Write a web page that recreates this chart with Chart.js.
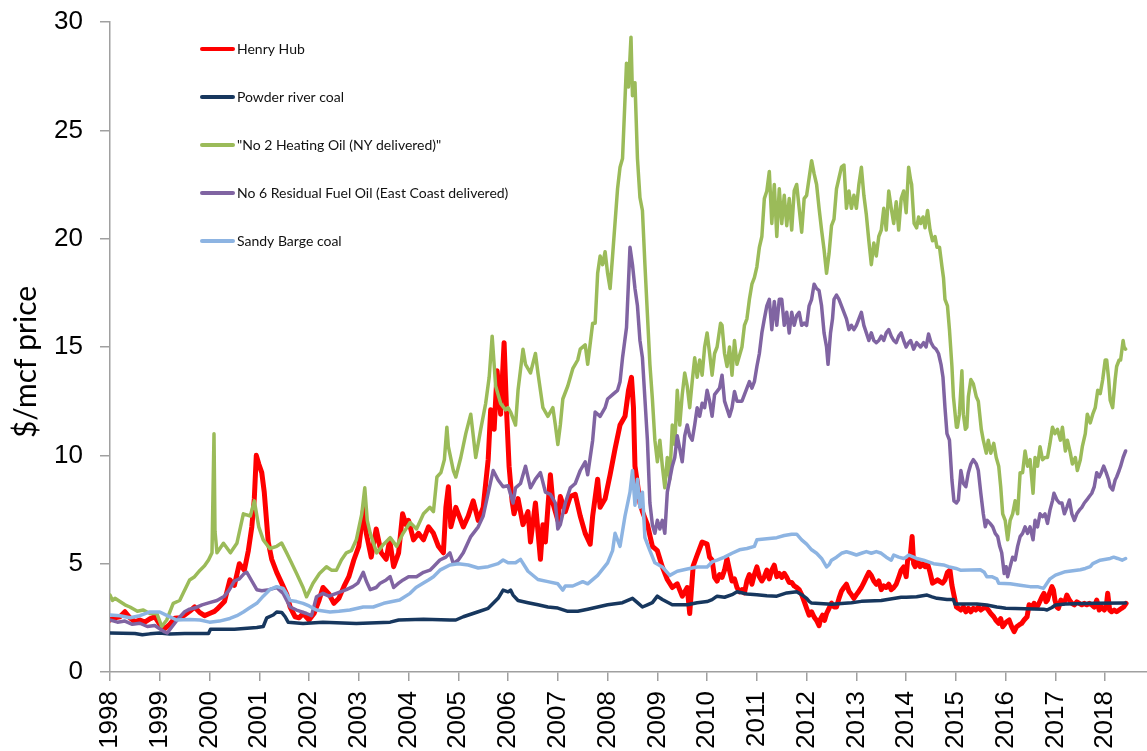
<!DOCTYPE html>
<html>
<head>
<meta charset="utf-8">
<script src="https://cdn.jsdelivr.net/npm/chart.js@4.4.1/dist/chart.umd.min.js"></script>
<style>
html,body{margin:0;padding:0;background:#fff;overflow:hidden;}
#wrap{position:relative;width:1147px;height:751px;}
</style>
</head>
<body>
<div id="wrap"><canvas id="c" width="1147" height="751"></canvas></div>
<script>
// ---- tick labels / categories ----
const yearTicks = [1998,1999,2000,2001,2002,2003,2004,2005,2006,2007,2008,2009,2010,2011,2012,2013,2014,2015,2016,2017,2018];
const seriesNames = ["Henry Hub","Powder river coal","\"No 2 Heating Oil (NY delivered)\"","No 6 Residual Fuel Oil (East Coast delivered)","Sandy Barge coal"];
const seriesColors = ["#ff0000","#17375e","#9bbb59","#8064a2","#8db4e2"];
const yAxisTitle = "$/mcf price";

// ---- series values: [decimal year, $/mcf] ----
const henryHub = [[1998.0,2.4],[1998.1,2.5],[1998.2,2.55],[1998.3,2.78],[1998.4,2.5],[1998.5,2.32],[1998.6,2.4],[1998.7,2.3],[1998.8,2.45],[1998.9,2.55],[1999.0,2.2],[1999.1,2.0],[1999.2,2.2],[1999.3,2.48],[1999.4,2.5],[1999.5,2.63],[1999.6,2.8],[1999.7,3.0],[1999.8,2.75],[1999.9,2.6],[2000.0,2.7],[2000.1,2.8],[2000.15,2.9],[2000.3,3.25],
[2000.41,4.25],[2000.5,4.0],[2000.6,5.0],[2000.7,4.7],[2000.78,5.6],[2000.85,6.7],[2000.9,8.0],[2000.94,10.0],[2000.99,9.6],[2001.05,9.2],[2001.1,8.3],[2001.18,6.0],[2001.25,5.2],[2001.35,4.6],[2001.45,4.1],[2001.55,3.6],[2001.62,3.0],[2001.72,2.55],[2001.8,2.5],[2001.88,2.7],[2002.0,2.4],
[2002.1,2.7],[2002.2,3.3],[2002.28,3.9],[2002.4,3.6],[2002.5,3.17],[2002.6,3.4],[2002.7,3.94],[2002.8,4.4],[2002.9,5.17],[2003.0,5.8],[2003.1,7.6],[2003.15,6.4],[2003.25,5.3],[2003.35,6.6],[2003.45,5.5],[2003.55,5.2],[2003.62,6.1],[2003.7,4.86],[2003.8,5.5],[2003.88,7.3],[2003.95,6.8],[2004.0,7.0],[2004.1,6.1],[2004.2,6.4],[2004.3,6.1],[2004.4,6.7],[2004.5,6.4],[2004.6,5.8],[2004.7,5.5],[2004.75,7.6],[2004.8,8.55],[2004.85,6.7],[2004.95,7.6],[2005.0,7.3],[2005.1,6.7],[2005.2,7.2],[2005.3,7.9],[2005.4,7.0],[2005.5,7.6],[2005.6,9.8],[2005.65,12.1],[2005.72,11.2],[2005.78,13.9],[2005.85,11.9],[2005.92,15.2],[2005.97,12.0],[2006.02,9.5],[2006.08,7.9],[2006.12,7.3],[2006.2,8.0],
[2006.3,6.8],[2006.4,7.4],[2006.45,6.0],[2006.55,7.8],[2006.65,5.2],[2006.7,6.8],[2006.75,6.0],[2006.8,7.6],[2006.85,9.1],[2006.9,7.8],[2007.0,7.0],[2007.05,8.1],[2007.15,7.4],[2007.25,8.1],[2007.35,8.2],[2007.45,7.2],[2007.55,6.4],[2007.65,5.9],[2007.7,7.2],[2007.8,8.9],[2007.85,7.6],[2007.95,8.0],[2008.05,9.1],[2008.15,10.3],[2008.25,11.4],[2008.35,11.8],[2008.42,13.0],[2008.48,13.6],[2008.52,12.2],[2008.55,9.5],[2008.6,8.7],[2008.65,7.8],[2008.7,7.4],[2008.8,6.8],[2008.9,5.8],[2009.0,5.6],[2009.1,4.85],[2009.2,4.27],[2009.3,3.9],[2009.4,4.07],[2009.5,3.5],[2009.6,3.9],[2009.65,2.7],[2009.72,4.9],[2009.8,5.4],[2009.9,6.0],[2010.0,5.9],
[2010.05,5.3],[2010.1,5.16],[2010.15,4.37],[2010.2,4.2],[2010.25,4.5],[2010.3,4.37],[2010.35,4.7],[2010.4,5.24],[2010.45,4.7],[2010.5,4.2],[2010.55,4.3],[2010.6,3.9],[2010.65,3.7],[2010.7,3.8],[2010.75,3.65],[2010.8,4.2],[2010.85,4.5],[2010.9,4.05],[2010.95,4.5],[2011.0,4.85],[2011.05,4.4],[2011.1,4.2],[2011.15,4.4],[2011.2,4.7],[2011.25,4.3],[2011.3,4.7],[2011.35,4.93],[2011.4,4.4],[2011.45,4.55],[2011.5,4.37],[2011.55,4.55],[2011.6,4.37],[2011.65,4.13],[2011.7,4.13],[2011.75,3.97],[2011.8,3.9],[2011.85,3.8],[2011.9,3.57],[2011.95,3.26],[2012.0,2.94],[2012.05,2.62],[2012.1,2.78],[2012.15,2.54],[2012.2,2.38],[2012.25,2.14],[2012.28,2.45],[2012.32,2.62],[2012.36,2.38],[2012.4,2.7],[2012.45,2.94],[2012.5,3.18],[2012.55,3.0],[2012.6,3.0],[2012.65,3.4],[2012.7,3.73],[2012.75,3.9],[2012.8,4.05],[2012.85,3.73],[2012.9,3.57],[2012.95,3.4],[2013.0,3.57],[2013.05,3.73],[2013.1,3.9],[2013.15,4.13],[2013.2,4.37],[2013.25,4.6],[2013.3,4.45],[2013.35,4.2],[2013.4,4.05],[2013.45,4.2],[2013.5,3.8],[2013.55,3.97],[2013.6,3.9],[2013.65,4.05],[2013.7,3.8],[2013.75,3.9],[2013.8,4.05],[2013.85,4.37],[2013.9,4.7],[2013.95,4.85],
[2014.0,4.4],[2014.03,5.17],[2014.08,5.3],[2014.12,6.25],[2014.15,5.0],[2014.18,4.86],[2014.23,5.17],[2014.28,4.86],[2014.33,5.0],[2014.38,4.86],[2014.43,5.0],[2014.48,4.6],[2014.53,4.1],[2014.58,4.17],[2014.63,4.25],[2014.68,4.17],[2014.73,4.1],[2014.78,4.25],[2014.83,4.6],[2014.88,4.7],[2014.92,4.0],[2014.96,3.55],[2015.01,3.0],[2015.05,2.94],[2015.1,2.86],[2015.15,3.0],[2015.2,2.78],[2015.25,2.94],[2015.3,2.78],[2015.35,2.94],[2015.4,2.86],[2015.45,3.0],[2015.5,2.86],[2015.55,2.94],[2015.6,3.0],[2015.65,2.86],[2015.7,2.7],[2015.76,2.55],[2015.8,2.4],[2015.86,2.24],[2015.9,2.47],[2015.94,2.09],[2015.99,2.24],[2016.02,2.32],[2016.07,2.4],[2016.12,2.09],[2016.17,1.86],[2016.22,2.09],[2016.27,2.17],[2016.32,2.24],[2016.37,2.4],[2016.43,2.55],[2016.47,3.1],[2016.53,3.0],[2016.57,3.17],[2016.63,3.0],[2016.67,3.17],[2016.73,3.47],[2016.77,3.63],[2016.81,3.24],[2016.84,3.32],[2016.88,3.63],[2016.93,3.94],[2016.96,3.78],[2016.99,3.32],[2017.03,3.0],[2017.06,2.94],[2017.11,3.32],[2017.16,3.17],[2017.2,3.32],[2017.23,3.55],[2017.28,3.32],[2017.33,3.17],[2017.38,3.1],[2017.43,3.24],[2017.48,3.17],[2017.53,3.1],[2017.58,3.17],[2017.63,3.1],[2017.68,3.17],[2017.73,3.1],[2017.78,3.0],[2017.83,3.32],[2017.88,2.86],[2017.93,3.0],[2017.98,2.86],[2018.02,3.0],[2018.05,3.63],[2018.09,2.86],[2018.13,2.78],[2018.18,2.86],[2018.23,2.78],[2018.28,2.86],[2018.33,2.94],[2018.37,3.0],[2018.4,3.1],[2018.42,3.17]];

const powderRiverCoal = [[1998.0,1.8],[1998.5,1.78],[1998.65,1.72],[1998.8,1.76],[1999.0,1.8],[1999.2,1.75],[1999.5,1.78],[1999.98,1.78],[2000.02,1.97],[2000.5,1.97],[2000.95,2.05],[2001.08,2.1],[2001.15,2.5],[2001.28,2.63],[2001.35,2.77],[2001.45,2.75],[2001.52,2.55],[2001.58,2.3],[2001.88,2.24],[2002.28,2.3],[2002.95,2.24],[2003.63,2.3],[2003.8,2.4],[2004.3,2.44],[2004.83,2.4],[2004.95,2.4],[2005.1,2.55],[2005.4,2.78],[2005.6,2.94],[2005.8,3.4],[2005.9,3.78],[2006.0,3.7],[2006.05,3.78],[2006.1,3.55],[2006.2,3.3],[2006.4,3.2],[2006.6,3.1],[2006.8,3.0],[2007.0,2.95],[2007.2,2.8],[2007.4,2.8],[2007.6,2.9],[2007.8,3.0],[2008.0,3.1],[2008.3,3.2],[2008.5,3.4],[2008.6,3.2],[2008.7,3.0],[2008.8,3.1],[2008.9,3.2],[2009.0,3.5],[2009.1,3.35],[2009.3,3.1],[2009.6,3.1],[2009.8,3.2],[2010.0,3.25],[2010.1,3.34],[2010.2,3.5],[2010.35,3.45],[2010.5,3.57],[2010.6,3.7],[2010.8,3.6],[2011.0,3.57],[2011.2,3.52],[2011.4,3.5],[2011.6,3.65],[2011.8,3.7],[2011.9,3.57],[2012.0,3.4],[2012.05,3.26],[2012.1,3.18],[2012.5,3.13],[2012.9,3.2],[2013.1,3.26],[2013.5,3.3],[2013.9,3.45],[2014.0,3.45],[2014.21,3.47],[2014.42,3.55],[2014.52,3.47],[2014.62,3.4],[2014.82,3.35],[2014.95,3.35],[2014.98,3.14],[2015.42,3.14],[2015.62,3.09],[2015.82,3.0],[2015.9,2.98],[2016.0,2.94],[2016.76,2.9],[2016.83,2.86],[2016.93,2.98],[2017.0,3.09],[2017.2,3.14],[2017.8,3.17],[2018.41,3.18]];

const heatingOilNo2 = [[1998.0,3.55],[1998.05,3.3],[1998.1,3.4],[1998.2,3.25],[1998.3,3.1],[1998.4,3.0],[1998.55,2.8],[1998.67,2.86],[1998.8,2.7],[1998.94,2.7],[1999.04,2.1],[1999.14,2.4],[1999.27,3.17],[1999.4,3.3],[1999.47,3.63],[1999.6,4.25],[1999.7,4.4],[1999.81,4.7],[1999.9,4.9],[1999.98,5.17],[2000.05,5.5],[2000.09,11.0],[2000.11,6.5],[2000.15,5.5],[2000.28,5.94],[2000.42,5.5],[2000.55,5.94],[2000.68,7.3],[2000.82,7.2],[2000.9,7.9],[2000.99,6.7],[2001.08,6.1],[2001.21,5.7],[2001.35,5.8],[2001.45,5.95],[2001.55,5.5],[2001.62,5.17],[2001.75,4.55],[2001.88,3.9],[2001.95,3.47],[2002.08,4.1],[2002.21,4.55],[2002.35,4.86],[2002.45,4.7],[2002.55,4.7],[2002.65,5.17],[2002.75,5.5],[2002.85,5.6],[2002.95,6.1],[2003.06,7.3],[2003.12,8.5],[2003.17,7.0],[2003.23,6.4],[2003.36,5.5],[2003.5,5.9],[2003.63,6.2],[2003.76,5.8],[2003.89,6.4],[2004.03,6.9],[2004.16,6.6],[2004.3,7.3],[2004.43,7.6],[2004.5,7.4],[2004.57,9.0],[2004.65,9.2],[2004.72,9.8],[2004.77,11.3],[2004.8,10.4],[2004.9,9.3],[2004.95,9.0],[2005.05,9.9],[2005.15,11.0],[2005.25,11.9],[2005.35,9.9],[2005.45,11.2],[2005.55,12.4],[2005.62,13.6],[2005.68,15.5],[2005.75,13.2],[2005.85,12.4],[2005.95,12.1],[2006.0,12.2],[2006.05,12.0],[2006.15,11.4],[2006.2,13.0],[2006.3,14.9],[2006.35,14.2],[2006.45,13.8],[2006.55,14.7],[2006.6,13.8],[2006.7,12.2],[2006.8,11.8],[2006.9,12.2],[2006.95,11.4],[2007.0,10.5],[2007.05,11.4],[2007.1,12.6],[2007.2,13.2],[2007.3,14.0],[2007.4,14.4],[2007.45,14.9],[2007.55,15.1],[2007.6,14.2],[2007.7,16.1],[2007.75,16.1],[2007.8,18.4],[2007.85,19.2],[2007.9,18.8],[2007.95,19.4],[2008.0,18.4],[2008.05,17.7],[2008.1,19.2],[2008.2,22.3],[2008.25,23.3],[2008.3,23.7],[2008.38,28.1],[2008.42,27.0],[2008.47,29.3],[2008.5,26.6],[2008.55,27.2],[2008.6,23.7],[2008.65,21.9],[2008.7,21.3],[2008.75,18.8],[2008.8,16.5],[2008.85,14.2],[2008.9,12.6],[2008.95,10.7],[2009.0,9.7],[2009.05,10.7],[2009.1,9.5],[2009.15,8.5],[2009.2,9.9],[2009.25,8.9],[2009.3,11.4],[2009.35,10.5],[2009.4,13.0],[2009.45,11.4],[2009.5,12.8],[2009.55,13.8],[2009.6,13.2],[2009.65,12.2],[2009.7,13.4],[2009.75,14.5],[2009.8,13.6],[2009.85,14.4],[2009.9,13.7],[2009.95,15.0],[2010.0,15.65],[2010.05,14.7],[2010.1,13.7],[2010.15,14.7],[2010.2,15.0],[2010.27,16.1],[2010.3,16.0],[2010.35,14.7],[2010.4,14.1],[2010.45,15.0],[2010.5,13.7],[2010.55,15.3],[2010.6,14.2],[2010.7,15.0],[2010.75,16.0],[2010.8,16.3],[2010.85,17.2],[2010.9,17.9],[2010.95,18.2],[2011.0,18.7],[2011.05,19.6],[2011.1,20.1],[2011.15,21.85],[2011.2,22.2],[2011.25,23.1],[2011.3,20.7],[2011.35,22.5],[2011.4,20.1],[2011.45,22.3],[2011.5,20.7],[2011.55,22.0],[2011.6,20.6],[2011.65,21.85],[2011.7,20.4],[2011.75,22.2],[2011.8,22.5],[2011.85,21.4],[2011.9,20.3],[2011.95,21.85],[2012.0,22.0],[2012.05,22.8],[2012.1,23.6],[2012.15,23.0],[2012.2,22.5],[2012.25,21.4],[2012.3,20.4],[2012.35,19.5],[2012.4,18.4],[2012.45,19.3],[2012.5,20.6],[2012.55,20.9],[2012.6,22.3],[2012.65,22.8],[2012.7,23.3],[2012.75,23.4],[2012.8,21.4],[2012.85,22.2],[2012.9,21.4],[2012.95,22.0],[2013.0,21.4],[2013.05,22.5],[2013.1,23.3],[2013.15,22.0],[2013.2,21.1],[2013.25,19.9],[2013.3,18.8],[2013.35,19.8],[2013.4,19.2],[2013.45,20.1],[2013.5,20.4],[2013.55,21.4],[2013.6,20.4],[2013.65,22.2],[2013.7,21.4],[2013.75,20.7],[2013.8,21.7],[2013.85,20.4],[2013.9,21.85],[2013.95,22.2],[2014.0,21.2],[2014.05,23.3],[2014.09,22.7],[2014.11,22.5],[2014.16,20.7],[2014.21,20.5],[2014.25,21.0],[2014.29,20.7],[2014.34,21.0],[2014.38,20.5],[2014.43,21.3],[2014.48,20.4],[2014.53,19.9],[2014.58,20.1],[2014.62,19.6],[2014.67,19.6],[2014.72,18.7],[2014.75,18.2],[2014.78,17.2],[2014.83,16.9],[2014.87,15.8],[2014.92,14.1],[2014.95,12.7],[2015.01,11.3],[2015.03,11.3],[2015.07,11.9],[2015.12,13.9],[2015.15,11.9],[2015.19,11.2],[2015.22,11.3],[2015.25,12.7],[2015.3,13.5],[2015.35,13.3],[2015.41,12.7],[2015.45,12.5],[2015.51,11.2],[2015.55,10.7],[2015.61,10.1],[2015.65,10.7],[2015.7,10.1],[2015.76,10.55],[2015.81,9.9],[2015.86,9.5],[2015.9,8.55],[2015.94,7.3],[2015.99,7.0],[2016.04,6.1],[2016.09,7.0],[2016.14,7.3],[2016.19,7.9],[2016.24,7.3],[2016.29,9.2],[2016.34,9.2],[2016.39,10.2],[2016.44,9.5],[2016.49,9.8],[2016.55,8.25],[2016.59,9.9],[2016.64,9.5],[2016.69,10.4],[2016.74,9.8],[2016.79,9.9],[2016.84,9.9],[2016.89,10.55],[2016.94,11.3],[2016.99,11.0],[2017.04,11.2],[2017.1,10.7],[2017.14,11.3],[2017.2,10.2],[2017.24,10.7],[2017.3,10.1],[2017.34,9.6],[2017.4,9.9],[2017.44,9.3],[2017.5,9.8],[2017.54,10.4],[2017.6,11.0],[2017.64,11.9],[2017.7,11.5],[2017.75,11.9],[2017.8,12.2],[2017.85,13.0],[2017.9,12.85],[2017.95,13.5],[2018.0,14.4],[2018.03,14.4],[2018.07,13.5],[2018.1,12.55],[2018.15,12.2],[2018.2,13.5],[2018.23,14.1],[2018.28,14.4],[2018.31,14.4],[2018.36,15.3],[2018.38,15.0],[2018.41,14.9]];

const residualFuelNo6 = [[1998.0,2.4],[1998.15,2.3],[1998.3,2.35],[1998.45,2.2],[1998.6,2.25],[1998.75,2.1],[1998.9,2.15],[1999.0,2.0],[1999.1,1.85],[1999.15,1.8],[1999.25,2.1],[1999.35,2.4],[1999.5,2.78],[1999.6,2.9],[1999.7,2.95],[1999.85,3.1],[2000.0,3.2],[2000.15,3.3],[2000.3,3.5],[2000.4,3.8],[2000.5,4.2],[2000.6,4.3],[2000.7,4.55],[2000.75,4.6],[2000.85,4.2],[2000.95,3.8],[2001.05,3.75],[2001.2,3.8],[2001.35,3.9],[2001.48,3.63],[2001.62,3.0],[2001.75,2.86],[2001.95,2.7],[2002.05,2.6],[2002.15,3.47],[2002.28,3.63],[2002.4,3.5],[2002.55,3.63],[2002.75,3.8],[2002.88,3.94],[2002.98,4.1],[2003.09,4.6],[2003.15,4.2],[2003.23,3.8],[2003.35,3.9],[2003.43,4.1],[2003.55,4.25],[2003.63,4.4],[2003.7,3.9],[2003.8,4.1],[2003.89,4.25],[2004.0,4.4],[2004.16,4.4],[2004.3,4.6],[2004.43,4.7],[2004.5,4.86],[2004.63,5.17],[2004.75,5.3],[2004.83,5.5],[2004.9,5.0],[2005.0,5.17],[2005.1,5.5],[2005.25,6.25],[2005.4,6.7],[2005.5,7.2],[2005.6,8.25],[2005.7,9.3],[2005.8,8.86],[2005.9,8.55],[2006.0,8.6],
[2006.1,7.8],[2006.15,8.5],[2006.25,8.7],[2006.35,9.5],[2006.45,8.5],[2006.55,8.9],[2006.65,9.2],[2006.75,8.3],[2006.85,8.2],[2006.95,7.8],[2007.0,6.6],[2007.05,6.8],[2007.15,7.8],[2007.25,8.5],[2007.35,8.7],[2007.45,9.3],[2007.55,9.7],[2007.6,9.1],[2007.7,10.7],[2007.75,12.0],[2007.85,11.8],[2007.95,12.2],[2008.0,12.6],[2008.1,12.8],[2008.2,13.0],[2008.25,13.4],[2008.3,14.5],[2008.38,15.9],[2008.45,19.6],[2008.5,18.8],[2008.55,17.7],[2008.6,16.9],[2008.65,15.3],[2008.7,14.5],[2008.75,12.6],[2008.8,10.7],[2008.85,7.8],[2008.9,6.8],[2008.95,6.4],[2009.0,7.0],[2009.05,6.6],[2009.1,7.0],[2009.15,6.4],[2009.2,8.3],[2009.25,8.9],[2009.3,9.5],[2009.35,9.9],[2009.4,10.9],[2009.45,10.3],[2009.5,9.7],[2009.55,10.9],[2009.6,11.4],[2009.65,10.9],[2009.7,10.7],[2009.75,11.4],[2009.8,12.2],[2009.85,11.8],[2009.9,12.4],[2009.95,12.2],[2010.0,13.0],
[2010.05,12.5],[2010.1,11.8],[2010.15,12.8],[2010.25,13.1],[2010.3,13.7],[2010.35,12.5],[2010.45,11.8],[2010.5,12.2],[2010.55,12.95],[2010.6,12.5],[2010.7,12.5],[2010.75,12.8],[2010.8,13.1],[2010.85,13.4],[2010.9,13.1],[2010.95,13.4],[2011.0,14.1],[2011.05,14.7],[2011.1,15.65],[2011.15,16.3],[2011.2,16.9],[2011.25,17.2],[2011.3,15.8],[2011.35,17.1],[2011.4,16.0],[2011.45,17.2],[2011.5,17.2],[2011.55,16.0],[2011.6,16.6],[2011.65,15.65],[2011.7,16.6],[2011.75,16.0],[2011.8,16.45],[2011.85,16.6],[2011.9,16.0],[2011.95,16.1],[2012.0,16.0],[2012.05,16.9],[2012.1,17.2],[2012.15,17.9],[2012.2,17.7],[2012.25,17.6],[2012.3,16.9],[2012.35,15.65],[2012.4,15.0],[2012.43,14.2],[2012.48,15.65],[2012.52,16.3],[2012.55,17.2],[2012.6,17.4],[2012.65,17.2],[2012.7,16.9],[2012.75,16.6],[2012.8,16.3],[2012.85,15.8],[2012.9,16.0],[2012.95,15.8],[2013.0,16.0],[2013.05,16.3],[2013.1,16.6],[2013.15,16.0],[2013.2,15.65],[2013.25,15.3],[2013.3,15.65],[2013.35,15.3],[2013.4,15.2],[2013.45,15.3],[2013.5,15.5],[2013.55,15.3],[2013.6,15.65],[2013.65,15.8],[2013.7,15.5],[2013.75,15.3],[2013.8,15.2],[2013.85,15.5],[2013.9,15.65],[2013.95,15.3],[2014.0,15.0],
[2014.05,15.2],[2014.09,15.3],[2014.15,14.9],[2014.21,15.2],[2014.29,15.0],[2014.35,15.2],[2014.4,15.0],[2014.45,15.6],[2014.5,15.2],[2014.55,15.0],[2014.6,14.9],[2014.65,14.7],[2014.7,14.2],[2014.74,13.6],[2014.78,12.2],[2014.82,11.0],[2014.87,10.7],[2014.92,8.86],[2014.96,7.9],[2015.01,7.8],[2015.05,7.94],[2015.1,9.3],[2015.15,8.7],[2015.2,8.55],[2015.25,9.2],[2015.3,9.6],[2015.35,9.8],[2015.41,9.6],[2015.45,9.3],[2015.5,8.25],[2015.55,7.3],[2015.59,6.7],[2015.63,7.0],[2015.69,6.85],[2015.74,6.7],[2015.79,6.4],[2015.84,6.25],[2015.88,5.8],[2015.92,5.5],[2015.97,4.55],[2016.01,4.86],[2016.04,4.4],[2016.09,4.86],[2016.14,5.3],[2016.19,5.17],[2016.24,5.8],[2016.29,6.25],[2016.34,6.4],[2016.39,6.7],[2016.44,6.4],[2016.49,6.7],[2016.55,6.1],[2016.59,7.0],[2016.64,6.7],[2016.69,7.3],[2016.74,7.17],[2016.79,7.3],[2016.84,6.86],[2016.89,7.47],[2016.94,7.9],[2016.97,8.25],[2017.03,7.94],[2017.08,7.8],[2017.13,7.8],[2017.18,7.3],[2017.23,7.6],[2017.28,7.94],[2017.33,7.3],[2017.38,7.0],[2017.43,7.3],[2017.48,7.47],[2017.53,7.6],[2017.58,7.8],[2017.63,7.94],[2017.68,8.1],[2017.73,8.25],[2017.78,8.55],[2017.83,9.2],[2017.88,9.0],[2017.92,9.2],[2017.97,9.5],[2018.02,9.2],[2018.07,8.86],[2018.1,8.55],[2018.15,8.4],[2018.2,8.86],[2018.23,9.0],[2018.28,9.3],[2018.31,9.5],[2018.36,9.9],[2018.41,10.2]];

const sandyBargeCoal = [[1998.0,2.63],[1998.2,2.6],[1998.4,2.5],[1998.6,2.6],[1998.8,2.77],[1999.0,2.77],[1999.15,2.6],[1999.34,2.4],[1999.6,2.42],[1999.81,2.4],[2000.0,2.3],[2000.2,2.35],[2000.41,2.47],[2000.55,2.6],[2000.68,2.77],[2000.8,2.95],[2000.95,3.17],[2001.08,3.5],[2001.21,3.8],[2001.35,3.94],[2001.48,3.86],[2001.55,3.6],[2001.62,3.3],[2001.75,3.25],[2001.88,3.17],[2002.0,3.05],[2002.15,2.86],[2002.42,2.77],[2002.6,2.8],[2002.82,2.86],[2003.09,3.0],[2003.29,3.0],[2003.5,3.17],[2003.82,3.32],[2004.03,3.63],[2004.15,3.9],[2004.29,4.1],[2004.4,4.25],[2004.5,4.4],[2004.63,4.7],[2004.83,4.94],[2005.0,5.0],[2005.2,4.94],[2005.4,4.8],[2005.6,4.86],[2005.8,5.0],[2005.9,5.17],[2006.0,5.04],[2006.15,5.04],[2006.25,5.2],[2006.4,4.65],[2006.6,4.27],[2006.8,4.17],[2007.0,4.07],[2007.1,3.78],[2007.15,3.97],[2007.3,3.97],[2007.5,4.17],[2007.6,4.07],[2007.8,4.46],[2007.9,4.75],[2008.0,5.04],[2008.1,5.6],[2008.15,6.4],[2008.25,5.8],[2008.35,7.2],[2008.45,8.3],[2008.5,9.3],[2008.55,7.7],[2008.6,8.9],[2008.65,7.6],[2008.7,8.3],[2008.75,6.2],[2008.85,5.6],[2008.95,5.04],[2009.1,4.85],[2009.25,4.46],[2009.4,4.65],[2009.6,4.75],[2009.8,4.85],[2010.0,4.85],[2010.1,5.08],[2010.2,5.16],[2010.35,5.3],[2010.5,5.48],[2010.65,5.64],[2010.8,5.7],[2010.95,5.8],[2011.0,6.1],[2011.4,6.2],[2011.55,6.3],[2011.7,6.36],[2011.8,6.36],[2011.9,6.1],[2012.0,5.9],[2012.1,5.64],[2012.2,5.48],[2012.3,5.24],[2012.4,4.85],[2012.45,4.95],[2012.5,5.16],[2012.6,5.3],[2012.7,5.48],[2012.8,5.55],[2012.9,5.48],[2013.0,5.4],[2013.1,5.48],[2013.2,5.56],[2013.3,5.48],[2013.4,5.56],[2013.5,5.48],[2013.6,5.3],[2013.7,5.16],[2013.75,5.4],[2013.85,5.3],[2013.95,5.24],[2014.0,5.3],[2014.05,5.4],[2014.21,5.24],[2014.35,5.16],[2014.55,5.0],[2014.75,4.94],[2014.85,4.86],[2015.0,4.78],[2015.09,4.7],[2015.49,4.72],[2015.57,4.6],[2015.62,4.4],[2015.72,4.4],[2015.82,4.3],[2015.86,4.1],[2016.09,4.07],[2016.29,4.0],[2016.49,3.94],[2016.64,3.94],[2016.76,3.86],[2016.83,4.1],[2016.89,4.3],[2017.0,4.47],[2017.2,4.63],[2017.5,4.72],[2017.6,4.78],[2017.7,4.86],[2017.75,5.0],[2017.9,5.16],[2018.1,5.24],[2018.17,5.3],[2018.25,5.24],[2018.34,5.16],[2018.41,5.24]];

const seriesData = [henryHub, powderRiverCoal, heatingOilNo2, residualFuelNo6, sandyBargeCoal];
const seriesWidths = [5, 3.5, 3.5, 3.5, 3.5];

const datasets = seriesData.map((arr, i) => ({
  label: seriesNames[i],
  data: arr.map(p => ({x: p[0], y: p[1]})),
  borderColor: seriesColors[i],
  backgroundColor: seriesColors[i],
  borderWidth: seriesWidths[i],
  pointRadius: 0,
  tension: 0,
  fill: false,
  borderJoinStyle: 'round',
  borderCapStyle: 'round',
  order: seriesData.length - i
}));

const insideLegend = {
  id: 'insideLegend',
  afterDatasetsDraw(chart) {
    const ctx = chart.ctx;
    ctx.save();
    seriesNames.forEach((name, i) => {
      const y = 49 + i * 48;
      ctx.strokeStyle = seriesColors[i];
      ctx.lineWidth = 4;
      ctx.lineCap = 'round';
      ctx.beginPath();
      ctx.moveTo(202, y);
      ctx.lineTo(233, y);
      ctx.stroke();
      ctx.fillStyle = '#111';
      ctx.font = '14px Lato';
      ctx.textBaseline = 'middle';
      ctx.textAlign = 'left';
      ctx.fillText(name, 237, y);
    });
    // rotated y-axis title
    ctx.translate(26, 362);
    ctx.rotate(-Math.PI / 2);
    ctx.fillStyle = '#000';
    ctx.font = '30px Lato';
    ctx.textAlign = 'center';
    ctx.textBaseline = 'middle';
    ctx.fillText(yAxisTitle, 0, 0);
    ctx.restore();
  }
};

const axisGrey = '#a0a0a0';
new Chart(document.getElementById('c'), {
  type: 'line',
  data: { datasets },
  plugins: [insideLegend],
  options: {
    responsive: false,
    animation: false,
    events: [],
    parsing: false,
    layout: { padding: { top: 22, left: 0, right: 0, bottom: 0 } },
    plugins: { legend: { display: false }, tooltip: { enabled: false }, title: { display: false } },
    scales: {
      x: {
        type: 'linear',
        min: 1998,
        max: 2018.84,
        afterBuildTicks: (s) => { s.ticks = yearTicks.map(v => ({ value: v })); },
        afterFit: (s) => { s.height = 79; s.paddingLeft = 0; s.paddingRight = 0; },
        ticks: {
          autoSkip: false,
          minRotation: 90,
          maxRotation: 90,
          padding: 10,
          color: '#000',
          font: { family: 'Liberation Sans', size: 26 },
          callback: (v) => String(v)
        },
        grid: { display: true, drawOnChartArea: false, drawTicks: true, tickLength: 9, color: axisGrey, lineWidth: 1.5 },
        border: { display: true, color: axisGrey, width: 1.5 }
      },
      y: {
        min: 0,
        max: 30,
        afterFit: (s) => { s.width = 110; s.paddingTop = 0; s.paddingBottom = 0; },
        ticks: {
          stepSize: 5,
          padding: 17,
          color: '#000',
          font: { family: 'Liberation Sans', size: 26 }
        },
        grid: { display: true, drawOnChartArea: false, drawTicks: true, tickLength: 10, color: axisGrey, lineWidth: 1.5 },
        border: { display: true, color: axisGrey, width: 1.5 }
      }
    }
  }
});
</script>
</body>
</html>
